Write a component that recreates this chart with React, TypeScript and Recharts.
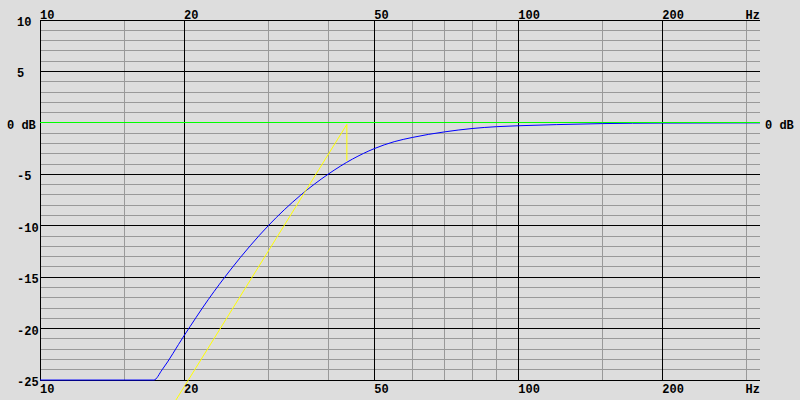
import { LineChart, Line, XAxis, YAxis, ReferenceLine, ReferenceDot } from "recharts";

// blue response curve (Hz / dB)
const blueFreq = [10, 17.3, 18, 20, 22.5, 25, 27.5, 30, 35, 40, 45, 50, 55, 60, 70, 80, 90, 100, 120, 150, 200, 320];
const blueDb = [-25, -25, -24.0, -20.7, -17.15, -14.3, -11.95, -10.0, -7.06, -5.0, -3.52, -2.5, -1.83, -1.42, -0.88, -0.55, -0.37, -0.28, -0.17, -0.07, -0.02, 0];

// yellow asymptote + drop to the curve
const yellowFreq = [19.24, 43.8, 43.8];
const yellowDb = [-26.94, -0.15, -3.7];

// axes
const xTicks = [10, 20, 50, 100, 200, 320];
const xLabels = ["10", "20", "50", "100", "200", "Hz"];
const dbTicks = [10, 5, 0, -5, -10, -15, -20, -25];
const dbLabels = ["10", "5", "0 dB", "-5", "-10", "-15", "-20", "-25"];
const freqMajor = [10, 20, 50, 100, 200];
const freqMinor = [15, 30, 40, 60, 70, 80, 90, 150, 300];

const F_MIN = 10;
const F_MAX = 320;
const DB_TOP = 10;
const DB_BOTTOM = -25;
const DB_FLOOR = -26.94; // chart bottom edge (yellow runs past the -25 line)

const FONT = "'Liberation Mono', 'DejaVu Sans Mono', monospace";
const GREY = "#999999";

const blueData = blueFreq.map((f, i) => ({ f, db: blueDb[i] }));
const yellowData = yellowFreq.map((f, i) => ({ f, db: yellowDb[i] }));

const dbGrid: number[] = [];
for (let d = DB_BOTTOM; d <= DB_TOP; d++) dbGrid.push(d);

const labelStyle = { fontFamily: FONT, fontSize: 12, fontWeight: 700, fill: "#000" };

function label(text: string, dx: number, dy: number, anchor: "start" | "end" = "start") {
  return (p: any) => (
    <text x={p.cx + dx} y={p.cy + dy} textAnchor={anchor} style={labelStyle}>
      {text}
    </text>
  );
}

export default function App() {
  return (
    <div style={{ position: "absolute", left: 0, top: 0, width: 800, height: 400, background: "#dddddd" }}>
      <LineChart width={800} height={400} margin={{ top: 20, right: 40, bottom: 0, left: 40 }}>
        <XAxis dataKey="f" type="number" scale="log" domain={[F_MIN, F_MAX]} allowDataOverflow hide />
        <YAxis type="number" domain={[DB_FLOOR, DB_TOP]} allowDataOverflow hide />

        {dbGrid.filter((d) => d % 5 !== 0).map((d) => (
          <ReferenceLine key={"hm" + d} segment={[{ x: F_MIN, y: d }, { x: F_MAX, y: d }]} stroke={GREY} strokeWidth={1} shapeRendering="crispEdges" />
        ))}
        {freqMinor.map((f) => (
          <ReferenceLine key={"vm" + f} segment={[{ x: f, y: DB_BOTTOM }, { x: f, y: DB_TOP }]} stroke={GREY} strokeWidth={1} shapeRendering="crispEdges" />
        ))}
        {dbGrid.filter((d) => d % 5 === 0 && d !== 0).map((d) => (
          <ReferenceLine key={"hM" + d} segment={[{ x: F_MIN, y: d }, { x: F_MAX, y: d }]} stroke="#000" strokeWidth={1} shapeRendering="crispEdges" />
        ))}
        {freqMajor.map((f) => (
          <ReferenceLine key={"vM" + f} segment={[{ x: f, y: DB_BOTTOM }, { x: f, y: DB_TOP }]} stroke="#000" strokeWidth={1} shapeRendering="crispEdges" />
        ))}

        {/* frequency labels, above and below the grid */}
        {xTicks.map((f, i) => {
          const last = i === xTicks.length - 1;
          return [
            <ReferenceDot key={"xt" + f} x={f} y={DB_TOP} r={0} ifOverflow="visible" shape={label(xLabels[i], 0, -1, last ? "end" : "start")} />,
            <ReferenceDot key={"xb" + f} x={f} y={DB_FLOOR} r={0} ifOverflow="visible" shape={label(xLabels[i], 0, -7, last ? "end" : "start")} />,
          ];
        })}
        {/* dB labels */}
        {dbTicks.map((d, i) => (
          <ReferenceDot key={"yl" + d} x={F_MIN} y={d} r={0} ifOverflow="visible" shape={label(dbLabels[i], d === 0 ? -33 : -23, 6)} />
        ))}
        <ReferenceDot x={F_MAX} y={0} r={0} ifOverflow="visible" shape={label("0 dB", 5, 6)} />

        <Line data={blueData} dataKey="db" type="monotone" stroke="#0000ff" strokeWidth={1} dot={false} isAnimationActive={false} />
        <ReferenceLine segment={[{ x: F_MIN, y: 0 }, { x: F_MAX, y: 0 }]} stroke="#00ff00" strokeWidth={1} shapeRendering="crispEdges" />
        <Line data={yellowData} dataKey="db" type="linear" stroke="#ffff00" strokeWidth={1} dot={false} isAnimationActive={false} />
      </LineChart>
    </div>
  );
}
